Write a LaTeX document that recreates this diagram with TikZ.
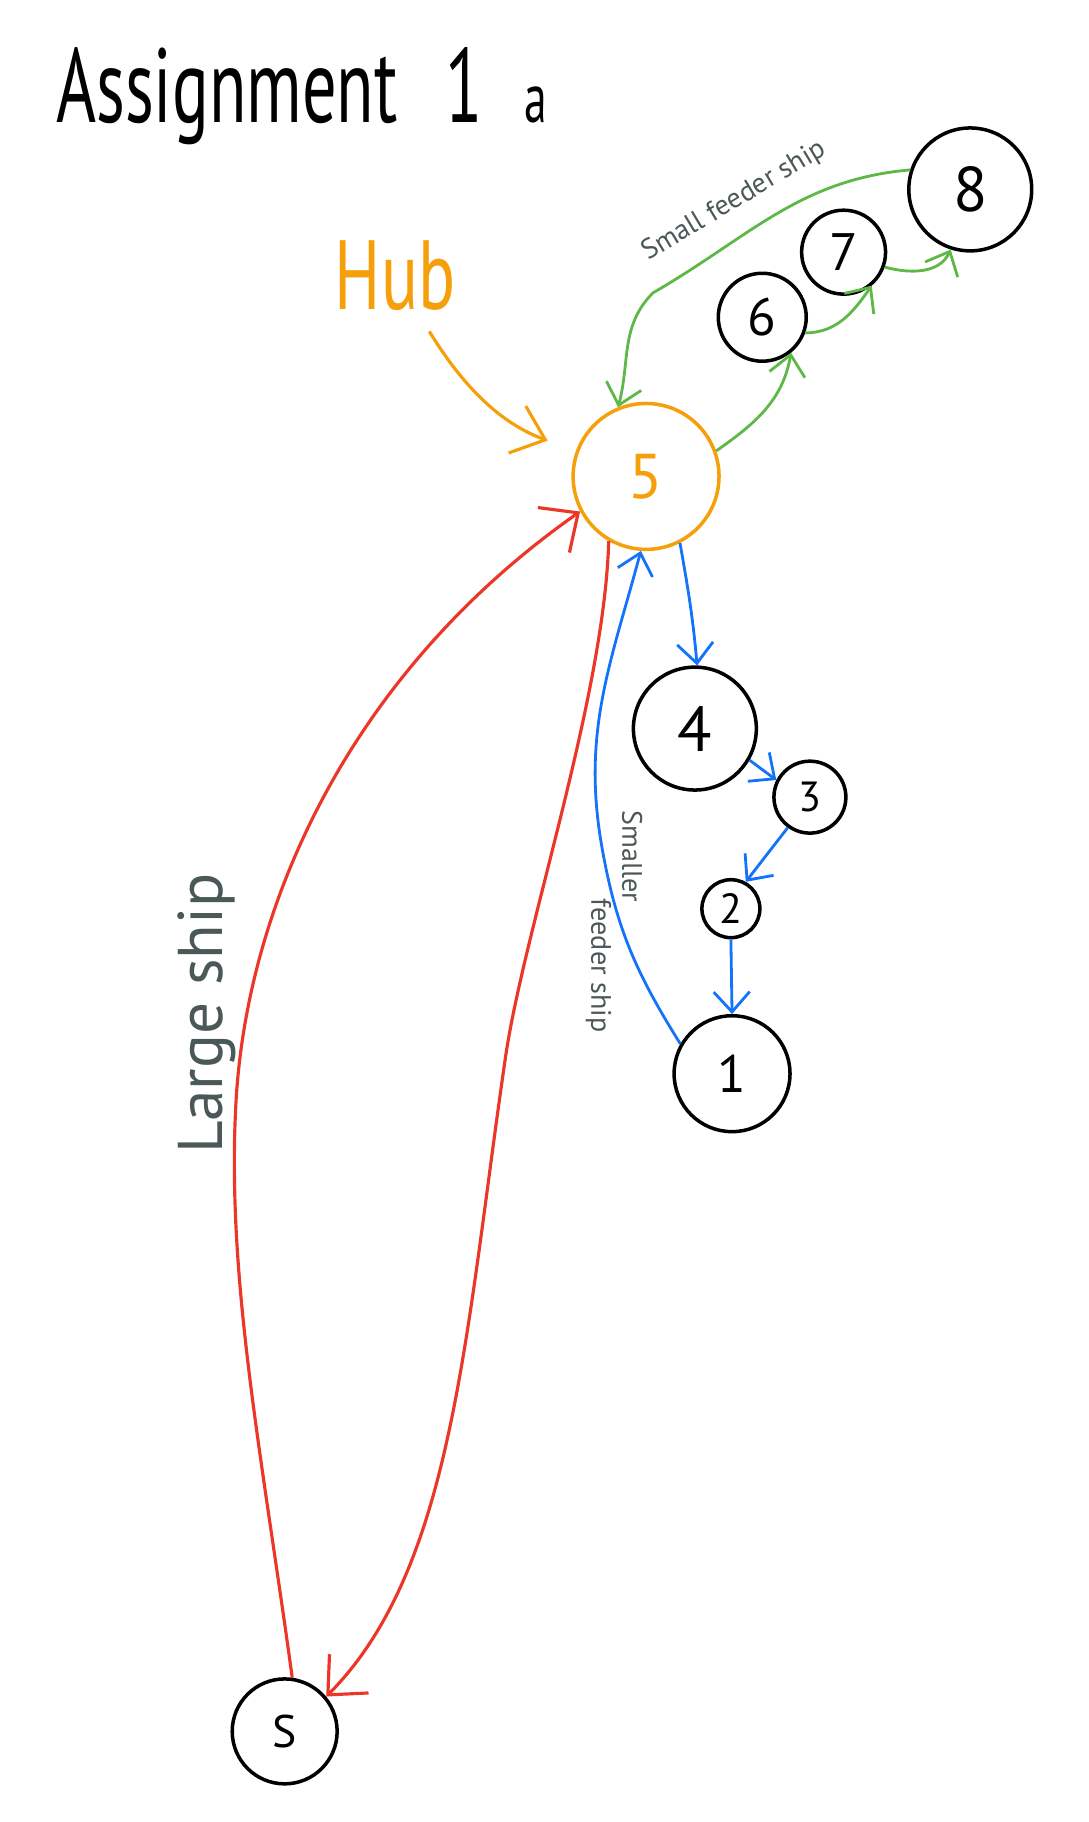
\documentclass[tikz,border=0pt]{standalone}
\usepackage{fontspec}
\setmainfont{PT Sans}
\usetikzlibrary{arrows.meta}
\definecolor{huborange}{RGB}{245,160,10}
\definecolor{feedgreen}{RGB}{94,184,72}
\definecolor{feedblue}{RGB}{20,115,250}
\definecolor{shipred}{RGB}{235,55,40}
\definecolor{notegray}{RGB}{75,88,88}
\tikzset{
  port/.style={circle,draw,line width=1pt,inner sep=0pt},
  note/.style={text=notegray,font=\fontsize{8}{10}\selectfont,inner sep=1pt},
  feedg/.style={draw=feedgreen,line width=0.8pt,-{Straight Barb[length=2mm,width=3.6mm]}},
  feedb/.style={draw=feedblue,line width=0.8pt,-{Straight Barb[length=2mm,width=3.6mm]}},
  mainline/.style={draw=shipred,line width=0.9pt,-{Straight Barb[length=3mm,width=5.5mm]}}
}
\begin{document}
\begin{tikzpicture}[x=0.011622cm,y=-0.011622cm]
\useasboundingbox (0,0) rectangle (937,1568);
% title and hub note
\node[anchor=base west,xscale=0.65,inner sep=0pt,font=\fontsize{30}{34}\selectfont] (title) at (48,105) {Assignment\hspace{0.7em}1\hspace{0.6em}{\fontsize{20}{22}\selectfont a}};
\node[text=huborange,xscale=0.7,font=\fontsize{28}{30}\selectfont] (hub) at (340,237) {Hub};
% ports
\node[port,minimum size=1.23cm,font=\fontsize{18}{20}\selectfont] (p8) at (835,163) {8};
\node[port,minimum size=0.84cm,font=\fontsize{15}{18}\selectfont] (p7) at (726,217) {7};
\node[port,minimum size=0.88cm,font=\fontsize{15}{18}\selectfont] (p6) at (656,273) {6};
\node[port,draw=huborange,text=huborange,minimum size=1.46cm,font=\fontsize{18}{20}\selectfont] (p5) at (556,410) {5};
\node[port,minimum size=1.23cm,font=\fontsize{18}{20}\selectfont] (p4) at (598,627) {4};
\node[port,minimum size=0.72cm,font=\fontsize{12}{14}\selectfont] (p3) at (697,686) {3};
\node[port,minimum size=0.58cm,font=\fontsize{12}{14}\selectfont] (p2) at (629,782) {2};
\node[port,minimum size=1.16cm,font=\fontsize{15}{18}\selectfont] (p1) at (630,924) {1};
\node[port,minimum size=1.05cm,font=\fontsize{13}{15}\selectfont] (ps) at (245,1490) {S};
\coordinate (w85) at (562,252);
\coordinate (w15) at (518,729);
\coordinate (w5s) at (435,910);
\coordinate (ws5) at (203,950);
% hub arrow
\draw[draw=huborange,line width=0.9pt,-{Straight Barb[length=3mm,width=5mm]},shorten <=1mm,shorten >=3mm] (hub) to[out=-55,in=160] (p5);
% green feeder loop
\draw[feedg] (p5.20) to[out=35,in=260] (p6.309);
\draw[feedg] (p6.340) to[out=0,in=235] (p7.310);
\draw[feedg] (p7.340) to[out=-15,in=245] (p8.252);
\draw[feedg] (p8.162) to[out=185,in=30] (w85) to[out=225,in=75] (p5.112);
\node[note,rotate=31] (lbsmall) at (632,173) {Small feeder ship};
% blue feeder loop
\draw[feedb] (p5.297) to[out=280,in=95] (p4.88);
\draw[feedb] (p4.-30) -- (p3.153);
\draw[feedb] (p3.234) -- (p2.61);
\draw[feedb] (p2.south) -- (p1.north);
\draw[feedb] (p1.150) to[out=122,in=280] (w15) to[out=100,in=255] (p5.266);
\node[note,rotate=-90] (lbsmaller) at (544,737) {Smaller};
\node[note,rotate=-90] (lbfeeder) at (515,831) {feeder ship};
% large ship
\draw[mainline] (p5.240) .. controls (520,600) and (451,800) .. (w5s) .. controls (400,1150) and (390,1350) .. (ps.40);
\draw[mainline] (ps.82) .. controls (225,1250) and (195,1100) .. (ws5) .. controls (212,780) and (300,580) .. (p5.208);
\node[note,rotate=90,font=\fontsize{18}{20}\selectfont] (lblarge) at (178,872) {Large ship};
\end{tikzpicture}
\end{document}
